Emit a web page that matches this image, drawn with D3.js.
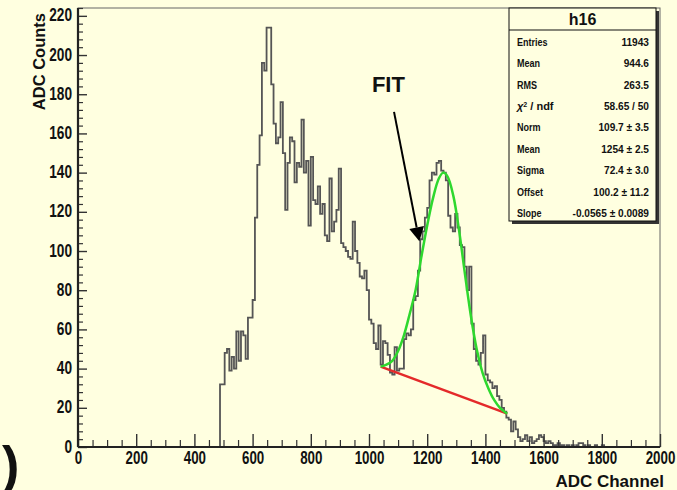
<!DOCTYPE html>
<html>
<head>
<meta charset="utf-8">
<script src="https://cdnjs.cloudflare.com/ajax/libs/d3/7.8.5/d3.min.js"></script>
<style>
  html, body { margin: 0; padding: 0; background: #ffffe0; }
  svg { display: block; }
  text { font-family: "Liberation Sans", Arial, Helvetica, sans-serif; font-weight: bold; fill: #111; }
</style>
</head>
<body>
<svg id="chart" width="677" height="490"></svg>
<script>
"use strict";

// histogram h16: 250 bins of 8 channels, only bins from channel 488 on are filled
const binWidth = 8;
const firstBinLow = 488;
const counts = [
    32, 32, 48, 50, 39, 46, 40, 59, 44, 59,
    57, 45, 66, 66, 75, 117, 144, 159, 196, 192,
    214, 214, 185, 165, 155, 158, 176, 150, 121, 145,
    158, 156, 135, 145, 143, 167, 140, 146, 113, 148,
    126, 124, 133, 119, 124, 108, 105, 137, 110, 115,
    121, 142, 104, 102, 100, 97, 96, 115, 100, 94,
    87, 86, 90, 80, 65, 63, 53, 50, 62, 42,
    54, 53, 47, 38, 37, 51, 39, 40, 40, 55,
    58, 57, 60, 75, 77, 90, 106, 110, 117, 122,
    136, 140, 139, 145, 146, 141, 140, 136, 118, 112,
    110, 119, 112, 103, 102, 92, 80, 92, 63, 50,
    44, 42, 48, 57, 37, 34, 33, 30, 31, 26,
    24, 20, 18, 15, 14, 8, 13, 9, 5, 3,
    4, 6, 3, 5, 2, 3, 4, 6, 5, 3,
    2, 3, 2, 1, 1, 2, 1, 1, 0, 1,
    0, 1, 0, 1, 2, 2, 1, 0, 1, 0,
    0, 1, 0, 0, 1
];

// fitted gaus + line
const fitChannel = [1040, 1060, 1080, 1100, 1120, 1140, 1160, 1180, 1200, 1220, 1240, 1255,
    1270, 1290, 1310, 1330, 1350, 1370, 1390, 1410, 1430, 1450, 1475];
const fitValue = [41, 42, 44, 49, 57, 68, 80, 97, 113, 127, 137, 140,
    138, 128, 110, 88, 67, 50, 38, 30, 24, 20, 17];
const bgChannel = [1040, 1475];
const bgValue = [41, 17];

const xTickValues = [0, 200, 400, 600, 800, 1000, 1200, 1400, 1600, 1800, 2000];
const yTickValues = [0, 20, 40, 60, 80, 100, 120, 140, 160, 180, 200, 220];

const statNames = ["Entries", "Mean", "RMS", "chi2", "Norm", "Mean", "Sigma", "Offset", "Slope"];
const statValues = ["11943", "944.6", "263.5", "58.65 / 50", "109.7 \u00b1 3.5", "1254 \u00b1 2.5",
    "72.4 \u00b1 3.0", "100.2 \u00b1 11.2", "-0.0565 \u00b1 0.0089"];

// annotation "FIT" with arrow, in data coordinates [channel, counts]
const fitLabelAt = [1010, 181];
const arrowFrom = [1086, 171];
const arrowTo = [1173, 105];

const frame = { left: 78, right: 660, top: 8, bottom: 447 };

const svg = d3.select("#chart");

const x = d3.scaleLinear().domain([0, 2000]).range([frame.left, frame.right]);
const y = d3.scaleLinear().domain([0, 224]).range([frame.bottom, frame.top]);

svg.append("rect")
    .attr("width", 677).attr("height", 490)
    .attr("fill", "#ffffe0");

// frame
svg.append("rect")
    .attr("x", frame.left).attr("y", frame.top)
    .attr("width", frame.right - frame.left)
    .attr("height", frame.bottom - frame.top)
    .attr("fill", "none")
    .attr("stroke", "#666")
    .attr("stroke-width", 1);

// histogram as step outline
const steps = [{ ch: 0, v: 0 }];
counts.forEach((c, i) => steps.push({ ch: firstBinLow + i * binWidth, v: c }));
steps.push({ ch: firstBinLow + counts.length * binWidth, v: 0 });
steps.push({ ch: 2000, v: 0 });

const stepLine = d3.line()
    .x(d => x(d.ch))
    .y(d => y(d.v))
    .curve(d3.curveStepAfter);

svg.append("path")
    .datum(steps)
    .attr("d", stepLine)
    .attr("fill", "none")
    .attr("stroke", "#555")
    .attr("stroke-width", 1.8);

// fit curves
const bgPoints = bgChannel.map((c, i) => ({ ch: c, v: bgValue[i] }));
const fitPoints = fitChannel.map((c, i) => ({ ch: c, v: fitValue[i] }));

svg.append("path")
    .datum(bgPoints)
    .attr("d", d3.line().x(d => x(d.ch)).y(d => y(d.v)))
    .attr("fill", "none")
    .attr("stroke", "#e42a2a")
    .attr("stroke-width", 2.5);

svg.append("path")
    .datum(fitPoints)
    .attr("d", d3.line().x(d => x(d.ch)).y(d => y(d.v)).curve(d3.curveCatmullRom))
    .attr("fill", "none")
    .attr("stroke", "#2ed82e")
    .attr("stroke-width", 2.5);

// axes, ticks point inward like ROOT
const squish = (sel, k) => sel.each(function () {
    const w = this.getComputedTextLength();
    d3.select(this).attr("textLength", w * k).attr("lengthAdjust", "spacingAndGlyphs");
});

const xMinor = d3.range(0, 2001, 50).filter(v => v % 200 !== 0);
const yMinor = d3.range(0, 225, 4).filter(v => v % 20 !== 0);

svg.append("g")
    .attr("transform", `translate(0,${frame.bottom})`)
    .call(d3.axisBottom(x).tickValues(xMinor).tickSize(-7).tickFormat(""))
    .call(g => g.select(".domain").remove())
    .selectAll("line").attr("stroke", "#333").attr("stroke-width", 1.2);

const xAxis = svg.append("g")
    .attr("transform", `translate(0,${frame.bottom})`)
    .call(d3.axisBottom(x).tickValues(xTickValues).tickSize(-13).tickPadding(4).tickFormat(d3.format("d")));
xAxis.select(".domain").remove();
xAxis.selectAll("line").attr("stroke", "#333").attr("stroke-width", 1.4);
xAxis.selectAll("text")
    .attr("font-size", 18)
    .attr("font-family", null)
    .attr("fill", "#111")
    .call(squish, 0.74);

svg.append("g")
    .attr("transform", `translate(${frame.left},0)`)
    .call(d3.axisLeft(y).tickValues(yMinor).tickSize(-5).tickFormat(""))
    .call(g => g.select(".domain").remove())
    .selectAll("line").attr("stroke", "#333").attr("stroke-width", 1.2);

const yAxis = svg.append("g")
    .attr("transform", `translate(${frame.left},0)`)
    .call(d3.axisLeft(y).tickValues(yTickValues).tickSize(-9).tickPadding(6).tickFormat(d3.format("d")));
yAxis.select(".domain").remove();
yAxis.selectAll("line").attr("stroke", "#333").attr("stroke-width", 1.4);
yAxis.selectAll("text")
    .attr("font-size", 18)
    .attr("font-family", null)
    .attr("fill", "#111")
    .attr("dy", "0.28em")
    .call(squish, 0.76);

// axis lines
svg.append("line")
    .attr("x1", frame.left).attr("x2", frame.right)
    .attr("y1", frame.bottom).attr("y2", frame.bottom)
    .attr("stroke", "#222").attr("stroke-width", 2.2);
svg.append("line")
    .attr("x1", frame.left).attr("x2", frame.left)
    .attr("y1", frame.top).attr("y2", frame.bottom)
    .attr("stroke", "#222").attr("stroke-width", 2.2);

// axis titles
svg.append("text")
    .attr("transform", "translate(45,13) rotate(-90)")
    .attr("text-anchor", "end")
    .attr("font-size", 16.5)
    .text("ADC Counts");

svg.append("text")
    .attr("x", 664).attr("y", 487)
    .attr("text-anchor", "end")
    .attr("font-size", 17)
    .text("ADC Channel");

// FIT annotation
svg.append("text")
    .attr("x", x(fitLabelAt[0])).attr("y", y(fitLabelAt[1]))
    .attr("font-size", 22)
    .text("FIT");

const ax0 = x(arrowFrom[0]), ay0 = y(arrowFrom[1]);
const ax1 = x(arrowTo[0]), ay1 = y(arrowTo[1]);
const ang = Math.atan2(ay1 - ay0, ax1 - ax0);
const headLen = 14, headHalf = 7.5;
const bx = ax1 - headLen * Math.cos(ang), by = ay1 - headLen * Math.sin(ang);

svg.append("line")
    .attr("x1", ax0).attr("y1", ay0)
    .attr("x2", bx).attr("y2", by)
    .attr("stroke", "#000").attr("stroke-width", 2);

svg.append("polygon")
    .attr("points", [
        [ax1, ay1],
        [bx + headHalf * Math.sin(ang), by - headHalf * Math.cos(ang)],
        [bx - headHalf * Math.sin(ang), by + headHalf * Math.cos(ang)]
    ].map(p => p.join(",")).join(" "))
    .attr("fill", "#000");

// stats box
const box = { x: 509, y: 8, w: 147, h: 213, titleH: 22 };
const stats = svg.append("g");

stats.append("rect")
    .attr("x", box.x + 3).attr("y", box.y + 3)
    .attr("width", box.w).attr("height", box.h)
    .attr("fill", "#333");
stats.append("rect")
    .attr("x", box.x).attr("y", box.y)
    .attr("width", box.w).attr("height", box.h)
    .attr("fill", "#ffffe0")
    .attr("stroke", "#111").attr("stroke-width", 1);
stats.append("line")
    .attr("x1", box.x).attr("x2", box.x + box.w)
    .attr("y1", box.y + box.titleH).attr("y2", box.y + box.titleH)
    .attr("stroke", "#111").attr("stroke-width", 1.2);
stats.append("text")
    .attr("x", box.x + box.w / 2).attr("y", box.y + box.titleH / 2)
    .attr("dy", "0.36em")
    .attr("text-anchor", "middle")
    .attr("font-size", 16)
    .text("h16");

const rowY = d3.scalePoint()
    .domain(d3.range(statNames.length))
    .range([box.y + 34, box.y + 205]);

statNames.forEach((name, i) => {
    const t = stats.append("text")
        .attr("x", box.x + 8).attr("y", rowY(i))
        .attr("dy", "0.36em")
        .attr("font-size", 11);
    if (name === "chi2") {
        t.append("tspan").attr("font-style", "italic").text("\u03c7");
        t.append("tspan").attr("font-size", 7).attr("dy", "-0.5em").text("2");
        t.append("tspan").attr("dy", "0.35em").text(" / ndf");
    } else {
        t.text(name).call(squish, 0.82);
    }
    stats.append("text")
        .attr("x", box.x + box.w - 7).attr("y", rowY(i))
        .attr("dy", "0.36em")
        .attr("text-anchor", "end")
        .attr("font-size", 11)
        .text(statValues[i])
        .call(squish, 0.92);
});

// stray bracket at bottom-left edge of the slide
svg.append("text")
    .attr("x", 2).attr("y", 483)
    .attr("font-size", 52)
    .text(")");
</script>
</body>
</html>
